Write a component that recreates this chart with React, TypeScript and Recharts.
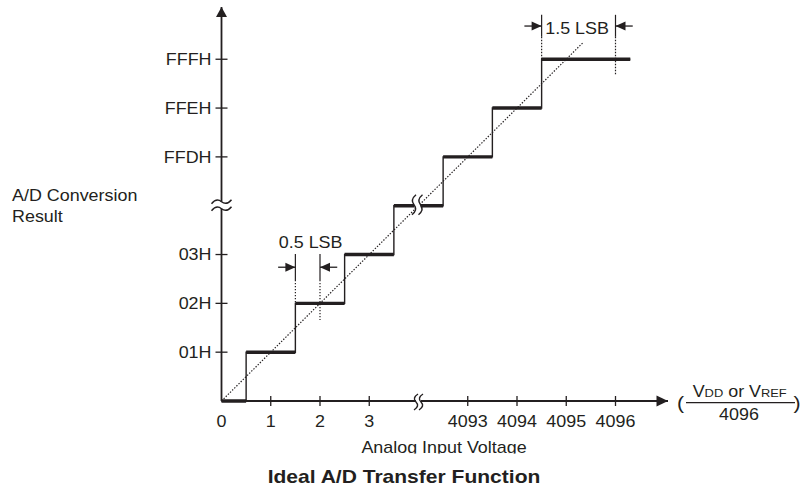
import React from "react";
import { ComposedChart, Line, XAxis, YAxis, ReferenceLine, ReferenceDot } from "recharts";

const INK = "#231f20";
const FONT = "'Liberation Sans', Arial, Helvetica, sans-serif";
const SX = 1.12; // the source lettering is a bit wider than Arial
const DOTS = "1.4 1.6";

// axes: evenly spaced index scale, the axis break sits at index 4
const xTicks = [0, 1, 2, 3, 5, 6, 7, 8];
const xTickLabels = ["0", "1", "2", "3", "4093", "4094", "4095", "4096"];
const yTicks = [1, 2, 3, 5, 6, 7];
const yTickLabels = ["01H", "02H", "03H", "FFDH", "FFEH", "FFFH"];
const xMax = 9.066;
const yMax = 8.07;
const breakAt = 4;

// transfer function steps
const stepStart = [0, 0.5, 1.5, 2.5, 3.5, 4.5, 5.5, 6.5];
const stepEnd = [0.5, 1.5, 2.5, 3.5, 4.5, 5.5, 6.5, 8.3];
const stepCode = [0, 1, 2, 3, 4, 5, 6, 7];

// ideal transfer line (dotted)
const idealX = [0, 7.35];
const idealY = [0, 7.35];

// LSB dimension marks
const dimLabels = ["0.5 LSB", "1.5 LSB"];
const dimLeft = [1.5, 6.5];
const dimRight = [2, 8];
const dimArrowY = [2.74, 7.68];
const dimTop = [3.01, 7.91];
const dimSolidEnd = [2.48, 7.46];
const dimLeftBottom = [2, 7];
const dimRightBottom = [1.66, 6.68];
const dimTail = [0.35, 0.35];
const dimLabelX = [1.81, 7.22];
const dimLabelY = [3.13, 7.52];

const thinSteps = [
  ...stepStart.map((x, i) => ({ x, y: stepCode[i] })),
  { x: stepEnd[stepEnd.length - 1], y: stepCode[stepCode.length - 1] },
];
const thickSteps = stepStart.flatMap((x, i) => [
  { x, y: stepCode[i] },
  { x: stepEnd[i], y: stepCode[i] },
  { x: stepEnd[i], y: null },
]);
const ideal = idealX.map((x, i) => ({ x, y: idealY[i] }));

function SText({ x, y, anchor = "start", size = 16, weight = "normal", children }: any) {
  return (
    <text
      transform={`translate(${x},${y}) scale(${SX},1)`}
      textAnchor={anchor}
      fontSize={size}
      fontWeight={weight}
      fontFamily={FONT}
      fill={INK}
    >
      {children}
    </text>
  );
}

function XTick({ x, y, payload }: any) {
  const i = xTicks.indexOf(payload.value);
  return (
    <g>
      {payload.value !== 0 && (
        <line x1={x} x2={x} y1={y - 5} y2={y + 5} stroke={INK} strokeWidth={1.3} />
      )}
      <SText x={x} y={y + 25.5} anchor="middle">{xTickLabels[i]}</SText>
    </g>
  );
}

function YTick({ x, y, payload }: any) {
  const i = yTicks.indexOf(payload.value);
  return (
    <g>
      <line x1={x - 6} x2={x + 6} y1={y} y2={y} stroke={INK} strokeWidth={1.3} />
      <SText x={x - 10} y={y + 5.8} anchor="end">{yTickLabels[i]}</SText>
    </g>
  );
}

const UpArrow = ({ cx, cy }: any) => (
  <path d={`M${cx},${cy} L${cx - 5.5},${cy + 10} L${cx + 5.5},${cy + 10} Z`} fill={INK} />
);
const RightArrow = ({ cx, cy }: any) => (
  <path d={`M${cx},${cy} L${cx - 11.5},${cy - 5.5} L${cx - 11.5},${cy + 5.5} Z`} fill={INK} />
);
const HeadRight = ({ cx, cy }: any) => (
  <path d={`M${cx},${cy} L${cx - 10},${cy - 4.5} L${cx - 10},${cy + 4.5} Z`} fill={INK} />
);
const HeadLeft = ({ cx, cy }: any) => (
  <path d={`M${cx},${cy} L${cx + 10},${cy - 4.5} L${cx + 10},${cy + 4.5} Z`} fill={INK} />
);

const tilde = (x0: number, y0: number) => `M${x0 - 10},${y0 + 2} q5,-6 10,-2 t10,-2`;
const wave = (x0: number, y0: number, h: number) =>
  `M${x0 + 2},${y0 - h} q-6,${h / 2} -2,${h} t-2,${h}`;

const YBreak = ({ cx, cy }: any) => (
  <g fill="none" stroke={INK} strokeWidth={1.4}>
    <rect x={cx - 3} y={cy - 4} width={6} height={7} fill="#fff" stroke="none" />
    <path d={tilde(cx, cy - 4)} />
    <path d={tilde(cx, cy + 3)} />
  </g>
);
const XBreak = ({ cx, cy }: any) => (
  <g fill="none" stroke={INK} strokeWidth={1.4}>
    <rect x={cx - 2.5} y={cy - 3} width={5} height={6} fill="#fff" stroke="none" />
    <path d={wave(cx - 2.5, cy + 1, 8)} />
    <path d={wave(cx + 2.5, cy + 1, 8)} />
  </g>
);
const StepBreak = ({ cx, cy }: any) => (
  <g fill="none" stroke={INK} strokeWidth={1.4}>
    <rect x={cx - 4.5} y={cy - 3} width={6.5} height={6} fill="#fff" stroke="none" />
    <path d={wave(cx - 4.5, cy - 1, 10)} />
    <path d={wave(cx + 2, cy - 1, 10)} />
  </g>
);
const DimLabel = (label: string) => ({ cx, cy }: any) => (
  <SText x={cx} y={cy} anchor="middle">{label}</SText>
);

export default function App() {
  return (
    <div style={{ position: "absolute", left: 0, top: 0, width: 806, height: 488, background: "#fff" }}>
      <ComposedChart width={806} height={488} margin={{ top: 7, right: 138, bottom: 57, left: 141.5 }}>
        <XAxis
          dataKey="x"
          type="number"
          domain={[0, xMax]}
          ticks={xTicks}
          interval={0}
          height={30}
          tickSize={0}
          tickMargin={0}
          tick={<XTick />}
          axisLine={{ stroke: INK, strokeWidth: 1.8 }}
          tickLine={false}
        />
        <YAxis
          type="number"
          domain={[0, yMax]}
          ticks={yTicks}
          interval={0}
          width={80}
          tickSize={0}
          tickMargin={0}
          tick={<YTick />}
          axisLine={{ stroke: INK, strokeWidth: 1.8 }}
          tickLine={false}
        />

        <Line data={ideal} dataKey="y" type="linear" stroke={INK} strokeWidth={1.2}
          strokeDasharray={DOTS} dot={false} activeDot={false} isAnimationActive={false} />
        <Line data={thinSteps} dataKey="y" type="stepAfter" stroke={INK} strokeWidth={1.4}
          dot={false} activeDot={false} isAnimationActive={false} />
        <Line data={thickSteps} dataKey="y" type="linear" stroke={INK} strokeWidth={3.4}
          strokeLinecap="butt" dot={false} activeDot={false} isAnimationActive={false} />

        {dimLabels.map((label, i) => (
          <React.Fragment key={label}>
            <ReferenceLine segment={[{ x: dimLeft[i], y: dimTop[i] }, { x: dimLeft[i], y: dimSolidEnd[i] }]}
              stroke={INK} strokeWidth={1.2} ifOverflow="visible" />
            <ReferenceLine segment={[{ x: dimLeft[i], y: dimSolidEnd[i] }, { x: dimLeft[i], y: dimLeftBottom[i] }]}
              stroke={INK} strokeWidth={1.2} strokeDasharray={DOTS} ifOverflow="visible" />
            <ReferenceLine segment={[{ x: dimRight[i], y: dimTop[i] }, { x: dimRight[i], y: dimSolidEnd[i] }]}
              stroke={INK} strokeWidth={1.2} ifOverflow="visible" />
            <ReferenceLine segment={[{ x: dimRight[i], y: dimSolidEnd[i] }, { x: dimRight[i], y: dimRightBottom[i] }]}
              stroke={INK} strokeWidth={1.2} strokeDasharray={DOTS} ifOverflow="visible" />
            <ReferenceLine segment={[{ x: dimLeft[i] - dimTail[i], y: dimArrowY[i] }, { x: dimLeft[i], y: dimArrowY[i] }]}
              stroke={INK} strokeWidth={1.3} ifOverflow="visible" />
            <ReferenceLine segment={[{ x: dimRight[i], y: dimArrowY[i] }, { x: dimRight[i] + dimTail[i], y: dimArrowY[i] }]}
              stroke={INK} strokeWidth={1.3} ifOverflow="visible" />
            <ReferenceDot x={dimLeft[i]} y={dimArrowY[i]} shape={HeadRight} ifOverflow="visible" />
            <ReferenceDot x={dimRight[i]} y={dimArrowY[i]} shape={HeadLeft} ifOverflow="visible" />
            <ReferenceDot x={dimLabelX[i]} y={dimLabelY[i]} shape={DimLabel(label)} ifOverflow="visible" />
          </React.Fragment>
        ))}

        <ReferenceDot x={0} y={yMax} shape={UpArrow} ifOverflow="visible" />
        <ReferenceDot x={xMax} y={0} shape={RightArrow} ifOverflow="visible" />
        <ReferenceDot x={0} y={breakAt} shape={YBreak} ifOverflow="visible" />
        <ReferenceDot x={breakAt} y={0} shape={XBreak} ifOverflow="visible" />
        <ReferenceDot x={breakAt} y={breakAt} shape={StepBreak} ifOverflow="visible" />

        <SText x={12} y={200.5}>A/D Conversion</SText>
        <SText x={12} y={221.5}>Result</SText>

        <SText x={680.5} y={409} anchor="middle" size={19}>(</SText>
        <SText x={797} y={409} anchor="middle" size={19}>)</SText>
        <line x1={686} x2={795} y1={402.7} y2={402.7} stroke={INK} strokeWidth={1.3} />
        <text transform={`translate(739.7,397.3) scale(${SX},1)`} textAnchor="middle"
          fontFamily={FONT} fill={INK} fontSize={16}>
          V<tspan fontSize={11.5}>DD</tspan> or V<tspan fontSize={11.5}>REF</tspan>
        </text>
        <SText x={739} y={419.5} anchor="middle">4096</SText>

        <SText x={444} y={453} anchor="middle">Analog Input Voltage</SText>
        <rect x={340} y={453.6} width={210} height={9} fill="#fff" />
        <SText x={404} y={483.3} anchor="middle" size={18.8} weight="bold">Ideal A/D Transfer Function</SText>
      </ComposedChart>
    </div>
  );
}
